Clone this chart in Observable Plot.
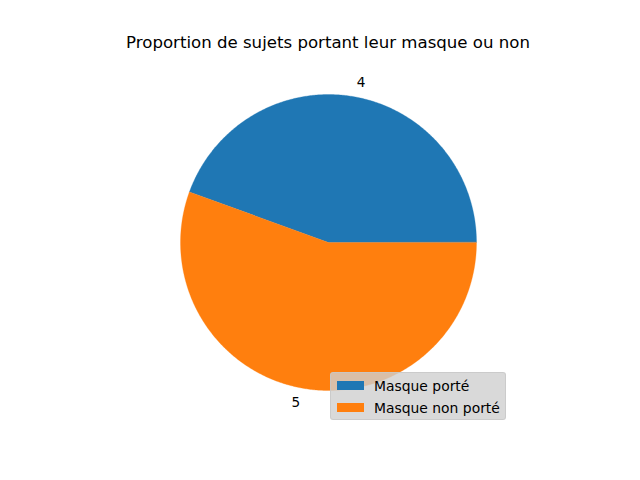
<!DOCTYPE html>
<html>
<head>
<meta charset="utf-8">
<script src="https://cdn.jsdelivr.net/npm/d3@7"></script>
<script src="https://cdn.jsdelivr.net/npm/@observablehq/plot@0.6"></script>
<style>
  html, body { margin: 0; padding: 0; background: #fff; }
  #wrap { position: relative; width: 640px; height: 480px; overflow: hidden; font-family: "DejaVu Sans", sans-serif; }
  #wrap svg { position: absolute; left: 0; top: 0; }
  #title { position: absolute; left: 0; width: 656px; top: 33px; text-align: center; font-size: 16.6px; line-height: 20px; color: #000; }
  #legend { position: absolute; left: 330px; top: 372px; width: 174px; height: 46px; background: rgba(208,208,208,0.8); border: 1px solid rgba(200,200,200,0.8); border-radius: 3px; box-sizing: content-box; }
  .item { position: absolute; left: 6px; height: 16px; font-size: 13.9px; line-height: 16px; color: #000; white-space: nowrap; }
  .sw { position: absolute; left: 0; top: 3px; width: 27px; height: 9px; }
  .lab { position: absolute; left: 37px; top: 0; }
</style>
</head>
<body>
<div id="wrap">
  <div id="title"></div>
  <div id="legend"></div>
</div>
<script>
const title = "Proportion de sujets portant leur masque ou non";
const labels = ["Masque porté", "Masque non porté"];
const values = [4, 5];
const colors = ["#1f77b4", "#ff7f0e"];

// build wedge outlines (center + arc points) from the values
const total = d3.sum(values);
const wedges = [];
const textPts = [];
let start = 0;
values.forEach((v, i) => {
  const sweep = v / total * 2 * Math.PI;
  const end = start + sweep;
  wedges.push({label: labels[i], x: 0, y: 0});
  const n = Math.max(2, Math.ceil(sweep / (Math.PI / 360)));
  for (let k = 0; k <= n; k++) {
    const a = start + sweep * k / n;
    wedges.push({label: labels[i], x: Math.cos(a), y: Math.sin(a)});
  }
  const mid = (start + end) / 2;
  const tx = 1.1 * Math.cos(mid), ty = 1.1 * Math.sin(mid);
  textPts.push({text: String(v), x: tx, y: ty, anchor: tx >= 0 ? "start" : "end"});
  start = end;
});

const plot = Plot.plot({
  width: 640,
  height: 480,
  margin: 0,
  x: {domain: [-1, 1], range: [180, 476], axis: null},
  y: {domain: [-1, 1], range: [390, 94], axis: null},
  color: {domain: labels, range: colors},
  style: {fontFamily: "DejaVu Sans, sans-serif", background: "white"},
  marks: [
    Plot.line(wedges, {x: "x", y: "y", z: "label", fill: "label", stroke: "label", strokeWidth: 0.3, curve: "linear-closed"}),
    Plot.text(textPts.filter(d => d.anchor === "start"), {x: "x", y: "y", text: "text", textAnchor: "start", fontSize: 13.6, fill: "black"}),
    Plot.text(textPts.filter(d => d.anchor === "end"), {x: "x", y: "y", text: "text", textAnchor: "end", fontSize: 13.6, fill: "black"})
  ]
});
const wrap = document.getElementById("wrap");
wrap.insertBefore(plot, wrap.firstChild);
document.getElementById("title").textContent = title;

const legend = document.getElementById("legend");
labels.forEach((l, i) => {
  const it = document.createElement("div");
  it.className = "item";
  it.style.top = (5 + i * 22) + "px";
  it.innerHTML = `<span class="sw" style="background:${colors[i]}"></span><span class="lab"></span>`;
  it.querySelector(".lab").textContent = l;
  legend.appendChild(it);
});
</script>
</body>
</html>
